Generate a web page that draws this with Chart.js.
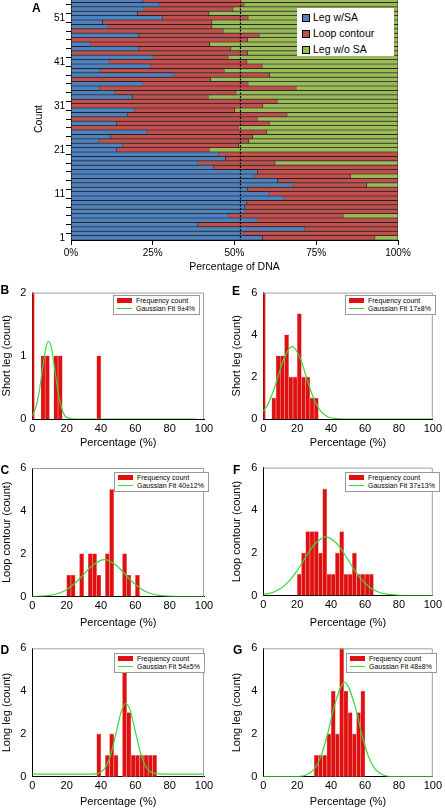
<!DOCTYPE html>
<html>
<head>
<meta charset="utf-8">
<script src="https://cdn.jsdelivr.net/npm/chart.js@4.4.0/dist/chart.umd.min.js"></script>
<style>
  body { margin: 0; width: 445px; height: 809px; position: relative; overflow: hidden; background: #fff;
         font-family: "Liberation Sans", Arial, sans-serif; color: #000; }
  canvas { position: absolute; }
  .letter { position: absolute; font-weight: bold; font-size: 12px; line-height: 12px; }
  .legA { position: absolute; left: 297px; top: 8px; width: 97px; height: 48px; background: #fff; font-size: 10.5px; }
  .legA div { position: absolute; left: 5px; height: 12px; line-height: 12px; white-space: nowrap; }
  .legA i { display: inline-block; width: 6px; height: 6px; border: 1px solid #000; margin-right: 3px; vertical-align: -0.5px; }
  .legH { position: absolute; background: #fff; border: 1px solid #999; font-size: 7px; line-height: 8px;
          padding: 1px 4px 1px 3px; white-space: nowrap; }
  .legH i { display: inline-block; width: 15px; margin-right: 4px; }
  .legH i.bar { height: 5px; background: #e01010; vertical-align: 0; }
  .legH i.ln { height: 1px; background: #38d838; vertical-align: 2px; }
</style>
</head>
<body>
<canvas id="chartA" width="445" height="280" style="left:0;top:-2px"></canvas>
<canvas id="chartB" width="225" height="175" style="left:0;top:280px"></canvas>
<canvas id="chartE" width="215" height="175" style="left:230px;top:280px"></canvas>
<canvas id="chartC" width="225" height="175" style="left:0;top:455px"></canvas>
<canvas id="chartF" width="215" height="175" style="left:230px;top:455px"></canvas>
<canvas id="chartD" width="225" height="179" style="left:0;top:630px"></canvas>
<canvas id="chartG" width="215" height="179" style="left:230px;top:630px"></canvas>

<div class="letter" style="left:32px;top:1.5px">A</div>
<div class="letter" style="left:0.5px;top:284px">B</div>
<div class="letter" style="left:232px;top:285px">E</div>
<div class="letter" style="left:0.5px;top:463.5px">C</div>
<div class="letter" style="left:233px;top:463.5px">F</div>
<div class="letter" style="left:0.5px;top:643.5px">D</div>
<div class="letter" style="left:233px;top:644px">G</div>

<div class="legA">
  <div style="top:3px"><i style="background:#4f81bd"></i>Leg w/SA</div>
  <div style="top:19px"><i style="background:#c0504d"></i>Loop contour</div>
  <div style="top:35px"><i style="background:#9bbb59"></i>Leg w/o SA</div>
</div>

<div class="legH" style="left:113px;top:295px"><div><i class="bar"></i>Frequency count</div><div><i class="ln"></i>Gaussian Fit 9±4%</div></div>
<div class="legH" style="left:345px;top:295px"><div><i class="bar"></i>Frequency count</div><div><i class="ln"></i>Gaussian Fit 17±8%</div></div>
<div class="legH" style="left:114px;top:472px"><div><i class="bar"></i>Frequency count</div><div><i class="ln"></i>Gaussian Fit 40±12%</div></div>
<div class="legH" style="left:345px;top:472px"><div><i class="bar"></i>Frequency count</div><div><i class="ln"></i>Gaussian Fit 37±13%</div></div>
<div class="legH" style="left:114px;top:653px"><div><i class="bar"></i>Frequency count</div><div><i class="ln"></i>Gaussian Fit 54±5%</div></div>
<div class="legH" style="left:346px;top:653px"><div><i class="bar"></i>Frequency count</div><div><i class="ln"></i>Gaussian Fit 48±8%</div></div>

<script>
// Panel A: share of each molecule (count 1 at the bottom)
const counts = Array.from({length: 55}, (_, i) => String(i + 1));
const legWithSA = [58.6, 52.7, 71.6, 38.7, 57.0, 48.1, 53.3, 53.2, 53.8, 65.2,
    60.6, 54.0, 68.0, 63.2, 56.1, 57.1, 43.6, 38.9, 47.3, 45.3,
    14.0, 15.7, 8.6, 12.2, 23.3, 0, 14.0, 0, 17.3, 19.4,
    0, 0, 18.9, 13.5, 8.7, 21.8, 0, 31.6, 8.9, 24.3,
    11.7, 25.2, 0, 20.8, 5.9, 0, 20.8, 0, 11.4, 9.7,
    28.0, 20.4, 22.4, 27.0, 22.0];
const loopContour = [34.4, 47.3, 28.4, 61.3, 43.0, 35.2, 46.7, 46.8, 46.2, 34.8,
    39.4, 46.0, 22.4, 36.8, 29.4, 42.9, 56.4, 23.5, 52.7, 54.7,
    28.3, 35.6, 45.8, 43.4, 36.5, 51.2, 46.7, 57.0, 48.8, 30.7,
    58.7, 63.1, 23.1, 37.0, 60.2, 32.4, 42.7, 29.2, 38.0, 34.2,
    42.1, 22.9, 54.0, 28.1, 36.5, 54.0, 36.8, 46.6, 31.7, 33.4,
    26.2, 21.8, 27.2, 26.0, 30.0];
const legWithoutSA = [7.0, 0, 0, 0, 0, 16.7, 0, 0, 0, 0,
    0, 0, 9.6, 0, 14.5, 0, 0, 37.6, 0, 0,
    57.7, 48.7, 45.6, 44.4, 40.2, 48.8, 39.3, 43.0, 33.9, 49.9,
    41.3, 36.9, 58.0, 49.5, 31.1, 45.8, 57.3, 39.2, 53.1, 41.5,
    46.2, 51.9, 46.0, 51.1, 57.6, 46.0, 42.4, 53.4, 56.9, 56.9,
    45.8, 57.8, 50.4, 47.0, 48.0];
const meanLine = 51.6;
const percentTicks = [0, 25, 50, 75, 100];

// Panels B-G: histogram bin centres (%) and counts, Gaussian fit
const histB_centres = [0, 6.25, 8.75, 13.75, 16.25, 38.75];
const histB_counts = [2, 1, 1, 1, 1, 1];
const fitB_x = [0, 2, 4, 6, 8, 9.5, 11, 13, 15, 17, 19, 22, 25, 95];
const fitB_y = [0.05, 0.18, 0.43, 0.8, 1.14, 1.23, 1.14, 0.8, 0.43, 0.18, 0.05, 0.01, 0, 0];

const histE_centres = [0, 6.25, 8.75, 11.25, 13.75, 16.25, 18.75, 21.25, 23.75, 26.25, 28.75, 31.25];
const histE_counts = [6, 1, 3, 3, 4, 2, 2, 5, 2, 2, 1, 1];
const fitE_x = [0, 3, 6, 9, 12, 17, 22, 25, 28, 31, 34, 38, 42, 50, 100];
const fitE_y = [0.36, 0.75, 1.34, 2.09, 2.84, 3.45, 2.84, 2.09, 1.34, 0.75, 0.36, 0.11, 0.03, 0, 0];

const histC_centres = [21.25, 23.75, 28.75, 33.75, 36.25, 38.75, 43.75, 46.25, 53.75, 56.25, 61.25];
const histC_counts = [1, 1, 2, 2, 2, 1, 2, 5, 2, 1, 1];
const fitC_x = [0, 10, 15, 20, 25, 30, 35, 42, 49, 54, 59, 64, 69, 74, 84, 100];
const fitC_y = [0, 0.05, 0.14, 0.32, 0.63, 1.04, 1.45, 1.72, 1.45, 1.04, 0.63, 0.32, 0.14, 0.05, 0, 0];

const histF_centres = [21.25, 23.75, 26.25, 28.75, 31.25, 33.75, 36.25, 38.75, 41.25,
    43.75, 46.25, 48.75, 51.25, 53.75, 56.25, 58.75, 61.25, 63.75];
const histF_counts = [1, 2, 3, 3, 3, 2, 5, 1, 1, 2, 3, 1, 1, 2, 1, 1, 1, 1];
const fitF_x = [0, 5, 10, 15, 20, 25, 30, 37, 44, 49, 54, 59, 64, 69, 74, 80, 100];
const fitF_y = [0.05, 0.13, 0.32, 0.66, 1.17, 1.8, 2.38, 2.75, 2.38, 1.8, 1.17, 0.66, 0.32, 0.13, 0.05, 0.01, 0];

const histD_centres = [38.75, 43.75, 46.25, 48.75, 53.75, 56.25, 58.75, 61.25, 63.75, 66.25, 68.75, 71.25];
const histD_counts = [2, 1, 2, 1, 5, 3, 1, 1, 1, 1, 1, 1];
const fitD_x = [0, 35, 40, 43, 46, 49, 52, 54.5, 57, 60, 63, 66, 69, 72, 76, 100];
const fitD_y = [0.12, 0.12, 0.22, 0.49, 1.12, 2.12, 3.1, 3.42, 3.1, 2.12, 1.12, 0.49, 0.22, 0.14, 0.12, 0.12];

const histG_centres = [31.25, 33.75, 36.25, 38.75, 41.25, 43.75, 46.25, 48.75, 51.25, 53.75, 56.25, 58.75];
const histG_counts = [1, 1, 1, 2, 4, 2, 6, 4, 3, 2, 3, 4];
const fitG_x = [0, 20, 25, 30, 34, 38, 42, 48, 54, 58, 62, 66, 71, 76, 100];
const fitG_y = [0, 0.01, 0.07, 0.35, 0.95, 2.02, 3.33, 4.41, 3.33, 2.02, 0.95, 0.35, 0.07, 0.01, 0];

Chart.defaults.font.family = '"Liberation Sans", Arial, sans-serif';
Chart.defaults.color = '#000';

// dotted mean line across panel A
const meanLinePlugin = {
    id: 'meanLine',
    afterDatasetsDraw(chart) {
        const {ctx, chartArea, scales: {x}} = chart;
        const px = Math.round(x.getPixelForValue(meanLine)) + 0.5;
        ctx.save();
        ctx.strokeStyle = '#000';
        ctx.lineWidth = 1.2;
        ctx.setLineDash([2, 1.5]);
        ctx.beginPath();
        ctx.moveTo(px, chartArea.top);
        ctx.lineTo(px, chartArea.bottom);
        ctx.stroke();
        ctx.restore();
    }
};

// grey top/right frame of the histogram boxes
const framePlugin = {
    id: 'frame',
    afterDraw(chart) {
        const {ctx, chartArea: a} = chart;
        ctx.save();
        ctx.strokeStyle = '#a0a0a0';
        ctx.lineWidth = 1;
        ctx.beginPath();
        ctx.moveTo(a.left, a.top + 0.5);
        ctx.lineTo(a.right - 0.5, a.top + 0.5);
        ctx.lineTo(a.right - 0.5, a.bottom);
        ctx.stroke();
        ctx.restore();
    }
};

new Chart(document.getElementById('chartA'), {
    type: 'bar',
    data: {
        labels: counts,
        datasets: [
            {label: 'Leg w/SA', data: legWithSA, backgroundColor: '#4f81bd'},
            {label: 'Loop contour', data: loopContour, backgroundColor: '#c0504d'},
            {label: 'Leg w/o SA', data: legWithoutSA, backgroundColor: '#9bbb59'}
        ]
    },
    options: {
        indexAxis: 'y',
        responsive: false,
        animation: false,
        datasets: {bar: {barPercentage: 1, categoryPercentage: 1, borderColor: '#1a1a1a', borderWidth: 0.7}},
        layout: {padding: {top: 0, right: 47, bottom: 0, left: 0}},
        plugins: {legend: {display: false}, tooltip: {enabled: false}},
        scales: {
            x: {
                stacked: true, min: 0, max: 100,
                afterBuildTicks: s => { s.ticks = percentTicks.map(v => ({value: v})); },
                ticks: {callback: v => v + '%', padding: 2, font: {size: 10}},
                grid: {drawOnChartArea: false, tickLength: 5, color: '#000'},
                border: {color: '#000'},
                title: {display: true, text: 'Percentage of DNA', font: {size: 10.5}, padding: {top: 0, bottom: 4.7}},
                afterFit: s => { s.height = 38; }
            },
            y: {
                stacked: true, reverse: true,
                ticks: {
                    autoSkip: false, padding: 1, font: {size: 10},
                    callback(v, i) {
                        if (i % 10 === 0) return this.getLabelForValue(v);
                        return i % 2 === 0 ? '' : null;
                    }
                },
                grid: {offset: true, drawOnChartArea: false, tickLength: 5, color: '#000'},
                border: {color: '#000'},
                title: {display: true, text: 'Count', font: {size: 10.5}, padding: {top: 32.7, bottom: 0}},
                afterFit: s => { s.width = 71; s.paddingTop = 0; s.paddingBottom = 0; }
            }
        }
    },
    plugins: [meanLinePlugin]
});

function histogram(id, centres, countsArr, fitX, fitY, yMax, yStep, yTitle, axisW, pad, xAxisH, titleBottom) {
    new Chart(document.getElementById(id), {
        type: 'bar',
        data: {
            datasets: [
                {
                    type: 'line', label: 'Gaussian Fit',
                    data: fitX.map((x, i) => ({x: x, y: fitY[i]})),
                    borderColor: '#38d838', borderWidth: 1.2, pointRadius: 0,
                    cubicInterpolationMode: 'monotone', order: 0
                },
                {
                    type: 'bar', label: 'Frequency count',
                    data: centres.map((x, i) => ({x: x, y: countsArr[i]})),
                    backgroundColor: '#e01010', borderColor: '#f4a6a6', borderWidth: 0.6,
                    barPercentage: 1, categoryPercentage: 1, order: 1
                }
            ]
        },
        options: {
            responsive: false,
            animation: false,
            layout: {padding: pad},
            plugins: {legend: {display: false}, tooltip: {enabled: false}},
            scales: {
                x: {
                    type: 'linear', offset: false, min: 0, max: 100,
                    ticks: {stepSize: 20, padding: 3, font: {size: 11}},
                    grid: {display: false, drawTicks: false},
                    border: {color: '#000'},
                    title: {display: true, text: 'Percentage (%)', font: {size: 11}, padding: {top: 0, bottom: titleBottom}},
                    afterFit: s => { s.height = xAxisH; }
                },
                y: {
                    min: 0, max: yMax,
                    ticks: {stepSize: yStep, padding: 6, font: {size: 11}},
                    grid: {display: false, drawTicks: false},
                    border: {color: '#000'},
                    title: {display: true, text: yTitle, font: {size: 11}, padding: 0},
                    afterFit: s => { s.width = axisW; }
                }
            }
        },
        plugins: [framePlugin]
    });
}

histogram('chartB', histB_centres, histB_counts, fitB_x, fitB_y, 2, 1, 'Short leg (count)', 32.3, {top: 11, right: 21}, 36, 5.4);
histogram('chartE', histE_centres, histE_counts, fitE_x, fitE_y, 6, 2, 'Short leg (count)', 33.3, {top: 11, right: 10}, 36, 5.4);
histogram('chartC', histC_centres, histC_counts, fitC_x, fitC_y, 6, 2, 'Loop contour (count)', 32.3, {top: 13, right: 21}, 33.5, 0.4);
histogram('chartF', histF_centres, histF_counts, fitF_x, fitF_y, 6, 2, 'Loop contour (count)', 33.3, {top: 12, right: 10}, 34.5, 0.4);
histogram('chartD', histD_centres, histD_counts, fitD_x, fitD_y, 6, 2, 'Long leg (count)', 32.3, {top: 18.3, right: 21}, 32.3, 0);
histogram('chartG', histG_centres, histG_counts, fitG_x, fitG_y, 6, 2, 'Long leg (count)', 33.3, {top: 18.3, right: 10}, 32.3, 0);
</script>
</body>
</html>
